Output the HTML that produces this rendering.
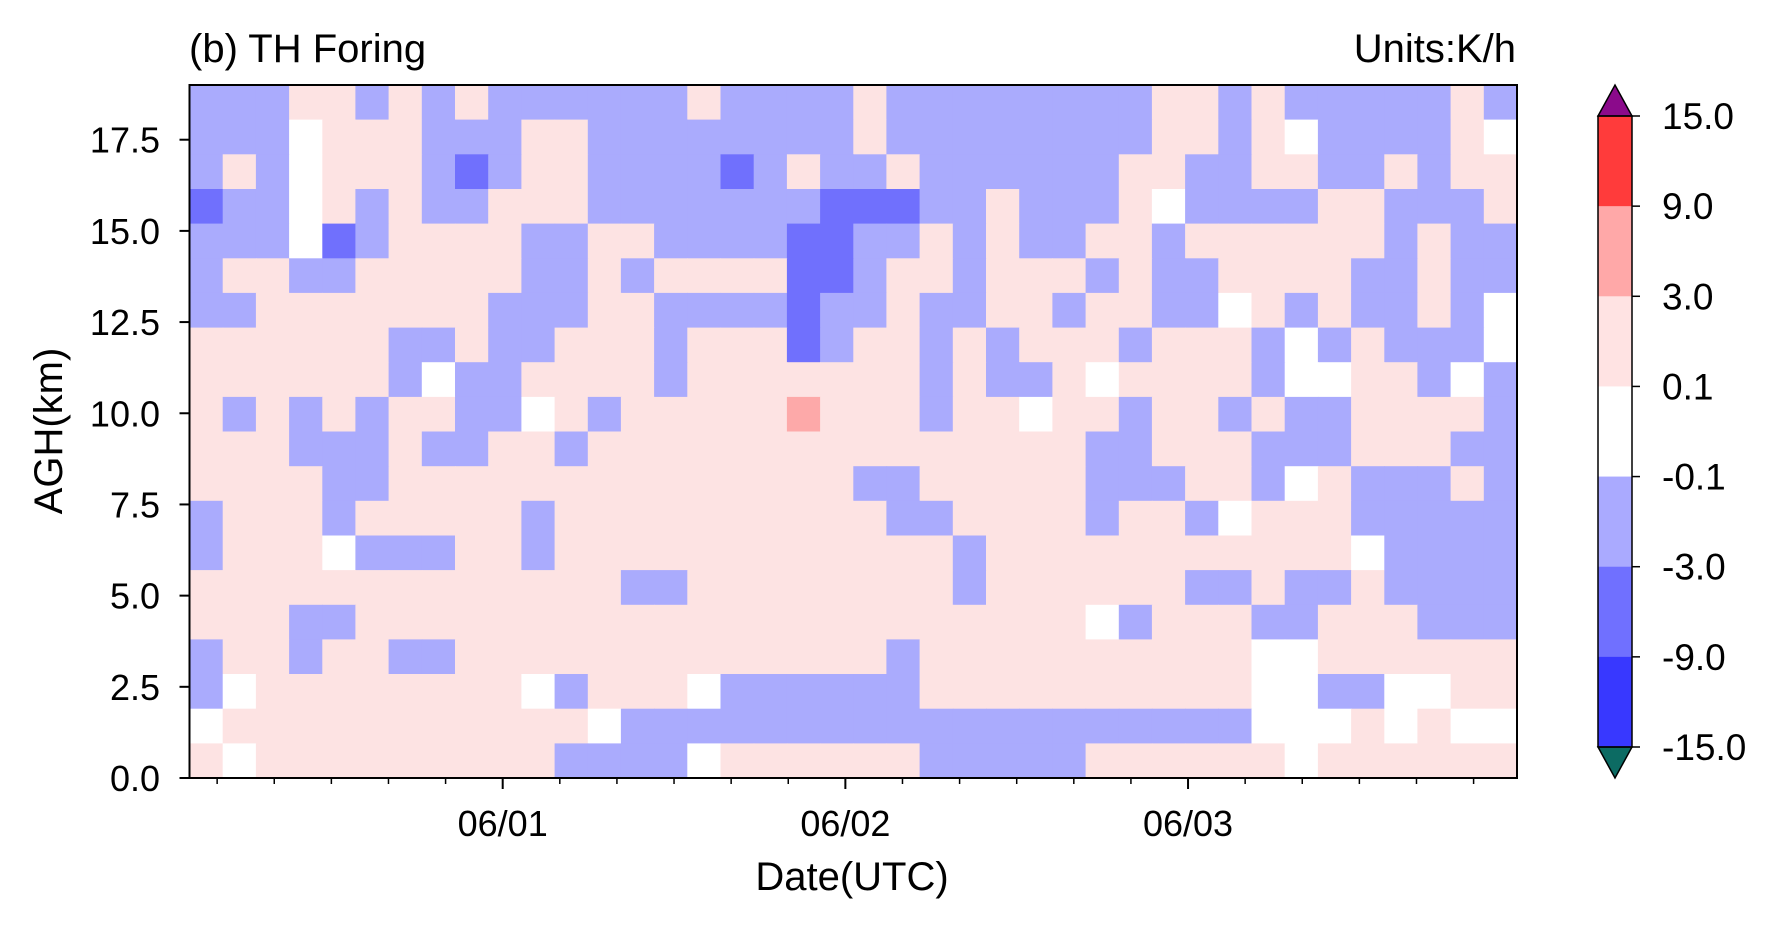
<!DOCTYPE html>
<html><head><meta charset="utf-8">
<style>
html,body{margin:0;padding:0;background:#fff;}
body{width:1770px;height:923px;overflow:hidden;font-family:"Liberation Sans",Arial,sans-serif;}
svg text{font-family:"Liberation Sans",Arial,sans-serif;fill:#000;}
</style></head>
<body>
<svg id="chart" width="1770" height="923" viewBox="0 0 1770 923" xmlns="http://www.w3.org/2000/svg">
  <g id="field"></g>
  <rect x="189.5" y="85" width="1327.5" height="693" fill="none" stroke="#000" stroke-width="2"/>
  <g id="axes"></g>
  <text x="189" y="62" font-size="40">(b) TH Foring</text>
  <text x="1516" y="62" font-size="40" text-anchor="end">Units:K/h</text>
  <text transform="translate(62,431) rotate(-90)" font-size="40" text-anchor="middle">AGH(km)</text>
  <text x="852" y="890" font-size="40" text-anchor="middle">Date(UTC)</text>
  <g id="cbar"></g>
</svg>
<script>
// Level codes per grid cell (rows top=19 km to bottom=0 km, 40 time columns)
const gridRows = [
"BBBPPBPBPBBBBBBPBBBBPBBBBBBBBPPBPBBBBBPB",
"BBBWPPPBBBPPBBBBBBBBPBBBBBBBBPPBPWBBBBPW",
"BPBWPPPBDBPPBBBBDBPBBPBBBBBBPPBBPPBBPBPP",
"DBBWPBPBBPPPBBBBBBBDDDBBPBBBPWBBBBPPBBBP",
"BBBWDBPPPPBBPPBBBBDDBBPBPBBPPBPPPPPPBPBB",
"BPPBBPPPPPBBPBPPPPDDBPPBPPPBPBBPPPPBBPBB",
"BBPPPPPPPBBBPPBBBBDBBPBBPPBPPBBWPBPBBPBW",
"PPPPPPBBPBBPPPBPPPDBPPBPBPPPBPPPBWBPBBBW",
"PPPPPPBWBBPPPPBPPPPPPPBPBBPWPPPPBWWPPBWB",
"PBPBPBPPBBWPBPPPPPRPPPBPPWPPBPPBPBBPPPPB",
"PPPBBBPBBPPBPPPPPPPPPPPPPPPBBPPPBBBPPPBB",
"PPPPBBPPPPPPPPPPPPPPBBPPPPPBBBPPBWPBBBPB",
"BPPPBPPPPPBPPPPPPPPPPBBPPPPBPPBWPPPBBBBB",
"BPPPWBBBPPBPPPPPPPPPPPPBPPPPPPPPPPPWBBBB",
"PPPPPPPPPPPPPBBPPPPPPPPBPPPPPPBBPBBPBBBB",
"PPPBBPPPPPPPPPPPPPPPPPPPPPPWBPPPBBPPPBBB",
"BPPBPPBBPPPPPPPPPPPPPBPPPPPPPPPPWWPPPPPP",
"BWPPPPPPPPWBPPPWBBBBBBPPPPPPPPPPWWBBWWPP",
"WPPPPPPPPPPPWBBBBBBBBBBBBBBBBBBBWWWPWPWW",
"PWPPPPPPPPPBBBBWPPPPPPBBBBBPPPPPPWPPPPPP"
];
const levelCodes = ["D","B","W","P","R"];
const levelColors = ["#7070fd","#aaabfd","#ffffff","#fde3e3","#fda9a9"];
const yTicks = [0,2.5,5,7.5,10,12.5,15,17.5];
const yTickLabels = ["0.0","2.5","5.0","7.5","10.0","12.5","15.0","17.5"];
const xDays = [0,1,2];
const xDayLabels = ["06/01","06/02","06/03"];
const cbarLevels = ["15.0","9.0","3.0","0.1","-0.1","-3.0","-9.0","-15.0"];
const cbarColors = ["#ff3b3b","#ffa8a8","#ffe3e3","#ffffff","#aaaaff","#7070ff","#3838ff"];

const NS="http://www.w3.org/2000/svg";
const PL=189.5, PR=1517, PT=85, PB=778;
const tMin=-0.914, tMax=2.96, zMax=19;
function xScale(t){return PL+(t-tMin)/(tMax-tMin)*(PR-PL);}
function yScale(z){return PB-z/zMax*(PB-PT);}
function mk(tag,attrs,parent){const e=document.createElementNS(NS,tag);for(const k in attrs)e.setAttribute(k,attrs[k]);parent.appendChild(e);return e;}

const field=document.getElementById('field');
const nR=gridRows.length, nC=gridRows[0].length;
for(let r=0;r<nR;r++){
  for(let c=0;c<nC;c++){
    const code=gridRows[r][c];
    const col=levelColors[levelCodes.indexOf(code)];
    const t0=tMin+c/nC*(tMax-tMin), t1=tMin+(c+1)/nC*(tMax-tMin);
    const z1=zMax-r/nR*zMax, z0=zMax-(r+1)/nR*zMax;
    const x=xScale(t0), y=yScale(z1);
    const el=mk('rect',{x:x.toFixed(1),y:y.toFixed(1),width:(xScale(t1)-x+0.6).toFixed(1),height:(yScale(z0)-y+0.6).toFixed(1),fill:col},field);
    
    
  }
}

const axes=document.getElementById('axes');
yTicks.forEach((v,i)=>{
  const y=yScale(v);
  const l=mk('line',{x1:PL-10,x2:PL,y1:y,y2:y,stroke:'#000','stroke-width':2},axes);
  
  
  const t=mk('text',{x:160,y:y+13,'font-size':36,'text-anchor':'end'},axes);
  t.textContent=yTickLabels[i];
  
  
});
for(let k=-5;k<=17;k++){
  const t=k/6; if(t<=tMin||t>=tMax) continue;
  const x=xScale(t), major=(k%6===0);
  const l=mk('line',{x1:x,x2:x,y1:PB,y2:PB+(major?11:6),stroke:'#000','stroke-width':major?2:1.5},axes);
  
  
}
xDays.forEach((d,i)=>{
  const t=mk('text',{x:xScale(d),y:836,'font-size':36,'text-anchor':'middle'},axes);
  t.textContent=xDayLabels[i];
  
  
});

const cb=document.getElementById('cbar');
const CX=1598, CW=34, CT=116, CBt=747, seg=(CBt-CT)/cbarColors.length;
cbarColors.forEach((c,i)=>{
  const r=mk('rect',{x:CX,y:CT+i*seg,width:CW,height:seg+0.5,fill:c},cb);
  
  
});
const up=mk('polygon',{points:`${CX},${CT} ${CX+CW/2},85 ${CX+CW},${CT}`,fill:'#8b0a8b',stroke:'#000','stroke-width':1.5},cb);


const dn=mk('polygon',{points:`${CX},${CBt} ${CX+CW/2},778 ${CX+CW},${CBt}`,fill:'#0c6b63',stroke:'#000','stroke-width':1.5},cb);


const fr=mk('rect',{x:CX,y:CT,width:CW,height:CBt-CT,fill:'none',stroke:'#000','stroke-width':1.5},cb);


cbarLevels.forEach((lab,i)=>{
  const y=CT+i*seg;
  const l=mk('line',{x1:CX+CW,x2:CX+CW+8,y1:y,y2:y,stroke:'#000','stroke-width':1.5},cb);
  
  
  const t=mk('text',{x:CX+CW+30,y:y+13,'font-size':37},cb);
  t.textContent=lab;
  
  
});
</script>
</body></html>
